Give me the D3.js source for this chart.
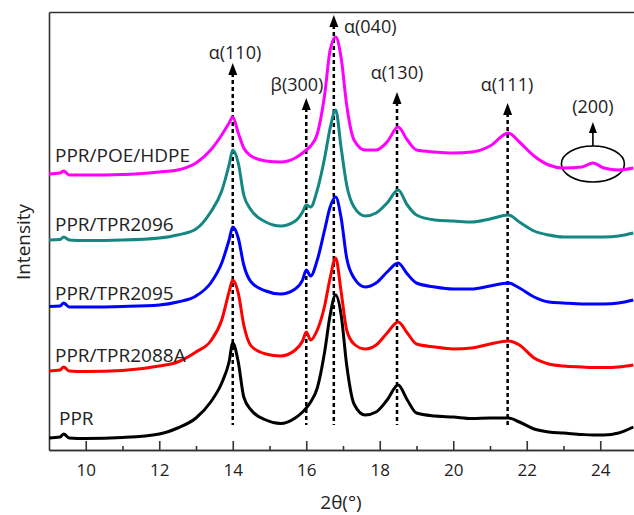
<!DOCTYPE html>
<html>
<head>
<meta charset="utf-8">
<script src="https://cdn.jsdelivr.net/npm/d3@7"></script>
<style>
  body { margin: 0; background: #fff; }
  text { font-family: "Open Sans", sans-serif; fill: #222; }
</style>
</head>
<body>
<div id="chart"></div>
<script>
// 2theta grid (deg)
const twoTheta = [9.0, 9.3, 9.4, 9.55, 10, 11, 12, 12.5, 13, 13.4, 13.7, 13.9, 14.0, 14.15, 14.3, 14.5, 14.9, 15.3, 15.7, 15.9,
  16.0, 16.12, 16.3, 16.5, 16.65, 16.8, 16.95, 17.1, 17.3, 17.6, 17.9, 18.2, 18.5, 18.75, 19.0, 19.5, 20.0, 20.5, 21.0, 21.5,
  21.8, 22.2, 22.6, 23.0, 23.5, 23.8, 24.1, 24.5, 24.9];

// intensities (a.u.), one array per sample
const intPPR = [120, 130, 160, 120, 115, 125, 160, 220, 320, 480, 670, 880, 1070, 880, 530, 400, 300, 265, 320, 380,
  420, 480, 620, 980, 1350, 1550, 1350, 850, 460, 350, 380, 500, 650, 500, 370, 340, 330, 315, 320, 320,
  280, 210, 180, 170, 155, 150, 150, 170, 230];
const intTPR2088A = [120, 130, 160, 120, 115, 125, 170, 210, 310, 420, 630, 910, 1030, 900, 580, 370, 290, 270, 330, 420,
  510, 430, 530, 770, 1050, 1250, 910, 530, 390, 340, 380, 500, 610, 500, 390, 360, 340, 350, 390, 420,
  380, 250, 190, 170, 160, 155, 155, 160, 180];
const intTPR2095 = [125, 130, 160, 120, 120, 125, 140, 170, 230, 360, 560, 790, 920, 810, 540, 370, 280, 250, 300, 390,
  490, 430, 590, 890, 1120, 1220, 1010, 610, 410, 320, 360, 470, 560, 450, 360, 320, 300, 300, 330, 360,
  310, 220, 170, 160, 150, 150, 150, 160, 190];
const intTPR2096 = [120, 125, 150, 120, 115, 120, 140, 170, 230, 400, 610, 870, 1020, 890, 570, 420, 300, 260, 310, 400,
  470, 450, 620, 940, 1240, 1420, 1040, 670, 450, 360, 390, 490, 620, 470, 370, 320, 310, 300, 330, 370,
  300, 210, 170, 150, 150, 150, 150, 160, 190];
const intPOEHDPE = [120, 130, 150, 110, 110, 115, 140, 160, 230, 360, 510, 630, 690, 530, 380, 300, 250, 240, 280, 330,
  360, 400, 520, 910, 1360, 1490, 1280, 810, 460, 360, 360, 440, 590, 460, 360, 340, 330, 340, 400, 530,
  440, 300, 210, 180, 190, 230, 180, 160, 180];

const sampleNames = ["PPR", "PPR/TPR2088A", "PPR/TPR2095", "PPR/TPR2096", "PPR/POE/HDPE"];
const sampleValues = [intPPR, intTPR2088A, intTPR2095, intTPR2096, intPOEHDPE];
const sampleOffsets = [0, 670, 1310, 1980, 2640];
const sampleColors = ["#000000", "#ff0000", "#0000ff", "#158783", "#ff00ff"];

// reflections
const peakLabels = ["α(110)", "β(300)", "α(040)", "α(130)", "α(111)"];
const peakPositions = [14.0, 16.0, 16.75, 18.47, 21.48];
const peakArrowTops = [3870, 3520, 4350, 3580, 3470];

const xTicks = [10, 12, 14, 16, 18, 20, 22, 24];
const xMinorTicks = [11, 13, 15, 17, 19, 21, 23, 25];

const width = 634, height = 515;
const margin = { top: 12, left: 49, right: -3, bottom: 65 };

const svg = d3.select("#chart").append("svg")
  .attr("width", width)
  .attr("height", height);

const xScale = d3.scaleLinear()
  .domain([9, 25])
  .range([margin.left, width - margin.right]);
const yScale = d3.scaleLinear()
  .domain([0, 4380])
  .range([height - margin.bottom, margin.top]);

//axes
const xAxis = svg.append("g")
  .attr("transform", `translate(0,${height - margin.bottom})`)
  .call(d3.axisBottom(xScale).tickValues(xTicks).tickFormat(d3.format("d"))
    .tickSize(-9).tickSizeOuter(0).tickPadding(14));
const xMinor = svg.append("g")
  .attr("transform", `translate(0,${height - margin.bottom})`)
  .call(d3.axisBottom(xScale).tickValues(xMinorTicks).tickFormat("")
    .tickSize(-4).tickSizeOuter(0));
const yAxis = svg.append("g")
  .attr("transform", `translate(${margin.left},0)`)
  .call(d3.axisLeft(yScale).ticks(0).tickSizeOuter(0));
const topAxis = svg.append("g")
  .attr("transform", `translate(0,${margin.top})`)
  .call(d3.axisTop(xScale).ticks(0).tickSizeOuter(0));

svg.selectAll(".domain, .tick line")
  .attr("stroke", "#333")
  .attr("stroke-width", 1.6);
xAxis.selectAll(".tick text")
  .attr("font-size", 17)
  .attr("fill", "#222");

//dashed reflection lines with arrows
const ann = svg.append("g");
peakPositions.forEach(function(p, i) {
  const x = xScale(p);
  const yTop = yScale(peakArrowTops[i]);
  ann.append("line")
    .attr("x1", x).attr("x2", x)
    .attr("y1", yTop + 10).attr("y2", yScale(250))
    .attr("stroke", "#000")
    .attr("stroke-width", 2.5)
    .attr("stroke-dasharray", "4,3");
  ann.append("path")
    .attr("d", `M${x},${yTop} L${x - 4.5},${yTop + 12} L${x + 4.5},${yTop + 12} Z`)
    .attr("fill", "#000");
});

//curves
const line = d3.line()
  .x(function(d) { return xScale(d[0]); })
  .y(function(d) { return yScale(d[1]); })
  .curve(d3.curveMonotoneX);

sampleValues.forEach(function(vals, i) {
  const pts = twoTheta.map(function(t, j) { return [t, vals[j] + sampleOffsets[i]]; });
  svg.append("path")
    .datum(pts)
    .attr("d", line)
    .attr("fill", "none")
    .attr("stroke", sampleColors[i])
    .attr("stroke-width", 3)
    .attr("stroke-linejoin", "round");
});

//sample labels
const labelBaselines = [425, 362, 300, 231, 162];
const labelX = [59, 55, 55, 55, 55];
sampleNames.forEach(function(name, i) {
  svg.append("text")
    .attr("x", labelX[i])
    .attr("y", labelBaselines[i])
    .attr("font-size", 19)
    .text(name);
});

//peak labels
const peakLabelPos = [[235, 59, "middle"], [297, 91, "middle"], [344, 33, "start"], [397, 79, "middle"], [507, 91, "middle"]];
peakLabels.forEach(function(lbl, i) {
  svg.append("text")
    .attr("x", peakLabelPos[i][0])
    .attr("y", peakLabelPos[i][1])
    .attr("text-anchor", peakLabelPos[i][2])
    .attr("font-size", 18)
    .text(lbl);
});

//(200) HDPE reflection
const ex = xScale(23.8), ey = 164;
ann.append("ellipse")
  .attr("cx", ex).attr("cy", ey)
  .attr("rx", 31.5).attr("ry", 18)
  .attr("fill", "none")
  .attr("stroke", "#000")
  .attr("stroke-width", 1.6);
ann.append("line")
  .attr("x1", ex).attr("x2", ex)
  .attr("y1", ey - 18).attr("y2", 130)
  .attr("stroke", "#000")
  .attr("stroke-width", 1.6);
ann.append("path")
  .attr("d", `M${ex},122 L${ex - 4},133 L${ex + 4},133 Z`)
  .attr("fill", "#000");
svg.append("text")
  .attr("x", ex).attr("y", 113)
  .attr("text-anchor", "middle")
  .attr("font-size", 18)
  .text("(200)");

//axis titles
svg.append("text")
  .attr("x", 341)
  .attr("y", 509)
  .attr("text-anchor", "middle")
  .attr("font-size", 19)
  .text("2θ(°)");
svg.append("text")
  .attr("transform", "rotate(-90)")
  .attr("x", -242)
  .attr("y", 30)
  .attr("text-anchor", "middle")
  .attr("font-size", 19)
  .text("Intensity");
</script>
</body>
</html>
